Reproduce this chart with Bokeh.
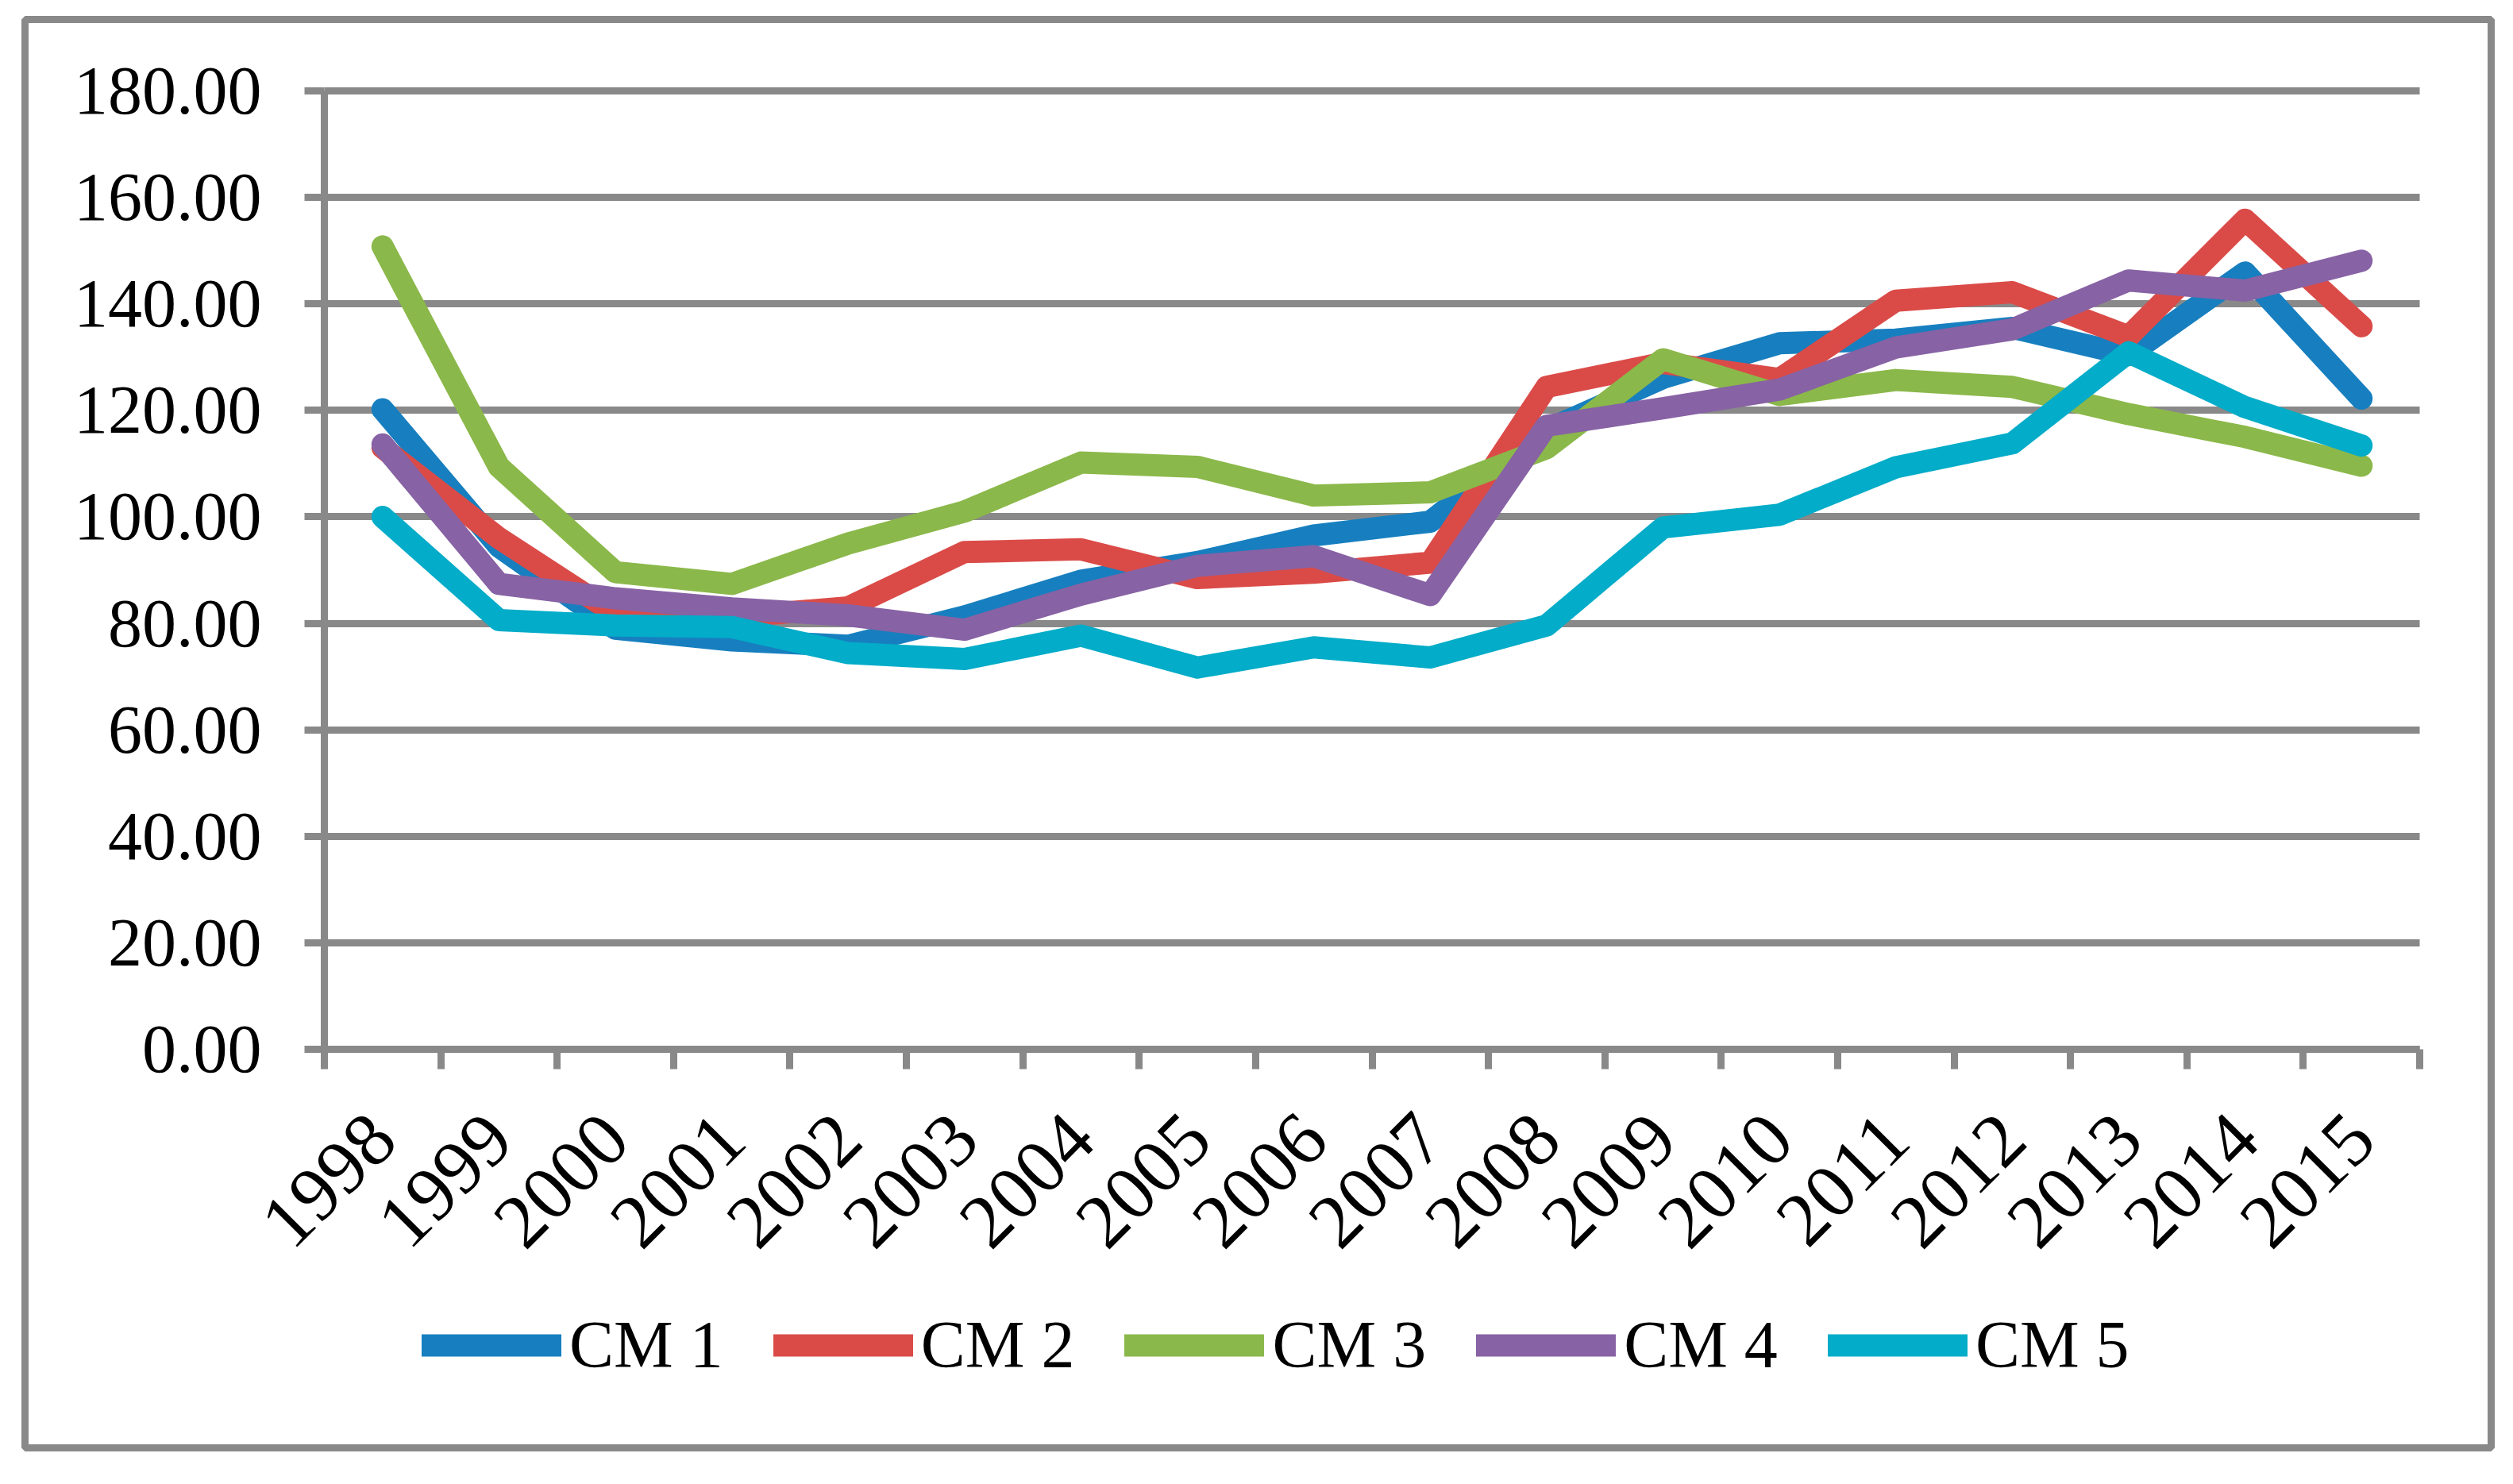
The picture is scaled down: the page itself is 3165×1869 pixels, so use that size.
import math
from bokeh.plotting import figure
from bokeh.models import (FixedTicker, NumeralTickFormatter, Legend, LegendItem, Range1d,
                          BoxAnnotation)
from bokeh.embed import file_html
from bokeh.resources import INLINE

years = ["1998", "1999", "2000", "2001", "2002", "2003", "2004", "2005", "2006",
         "2007", "2008", "2009", "2010", "2011", "2012", "2013", "2014", "2015"]
cm1 = [120.2, 94.4, 79.0, 76.8, 75.8, 81.3, 88.0, 91.5, 96.5, 99.1, 116.3, 126.1,
       132.6, 133.3, 135.5, 130.4, 145.9, 122.2]
cm2 = [113.0, 96.0, 81.8, 81.2, 83.0, 93.4, 93.9, 88.5, 89.5, 91.4, 124.4, 128.9,
       125.9, 140.6, 142.2, 133.9, 155.8, 135.8]
cm3 = [150.8, 109.4, 89.6, 87.4, 95.0, 101.0, 110.2, 109.4, 104.0, 104.6, 112.9, 129.6,
       122.9, 125.7, 124.4, 119.3, 115.0, 109.6]
cm4 = [113.6, 87.4, 84.7, 82.8, 81.5, 78.8, 85.4, 90.8, 92.6, 85.3, 117.1, 120.4,
       123.9, 131.8, 135.2, 144.4, 142.5, 148.1]
cm5 = [100.0, 80.6, 79.6, 79.3, 74.4, 73.3, 77.7, 71.7, 75.5, 73.6, 79.6, 98.0,
       100.4, 109.3, 113.8, 130.9, 120.6, 113.4]
series_names = ["CM 1", "CM 2", "CM 3", "CM 4", "CM 5"]
series_values = [cm1, cm2, cm3, cm4, cm5]
colors = ["#177FBF", "#DA4B48", "#8BB84A", "#8762A4", "#03ACC8"]
y_ticks = [0, 20, 40, 60, 80, 100, 120, 140, 160, 180]

FONT = "Liberation Serif"
GRAY = "#898989"
LW = 28
GW = 9

W, H = 3160, 1862
MB = 5                         # thin outer margin; the frame covers almost the whole canvas
FL, FR, FT, FB = MB, W - MB, MB, H - MB
# plot-area geometry in canvas pixels
AX_LEFT, AX_RIGHT = 408, 3047      # x = 0 .. n categories
AX_TOP, AX_BOTTOM = 114, 1321      # y = 180 .. 0
n = len(years)
ppx = (AX_RIGHT - AX_LEFT) / n
ppy = (AX_BOTTOM - AX_TOP) / 180.0
x_min = -(AX_LEFT - FL) / ppx
x_max = n + (FR - AX_RIGHT) / ppx
y_min = -(FB - AX_BOTTOM) / ppy
y_max = 180 + (AX_TOP - FT) / ppy

p = figure(width=W, height=H, output_backend="svg", toolbar_location=None,
           x_range=Range1d(x_min, x_max), y_range=Range1d(y_min, y_max),
           min_border_left=MB, min_border_right=MB, min_border_top=MB,
           min_border_bottom=MB)
p.outline_line_color = None
p.background_fill_color = "white"
p.border_fill_color = "white"

xs = [i + 0.5 for i in range(n)]

renderers = []
for name, vals, col in zip(series_names, series_values, colors):
    r = p.line(xs, vals, line_color=col, line_width=LW,
               line_cap="round", line_join="round")
    renderers.append(r)

# x axis: drawn at value 0, labels at category centres, ticks at category boundaries
p.xaxis.fixed_location = 0
p.xaxis.bounds = (0, n)
p.xaxis.ticker = FixedTicker(ticks=xs, minor_ticks=list(range(n + 1)))
p.xaxis.major_label_overrides = {x: y for x, y in zip(xs, years)}
p.xaxis.major_tick_out = 0
p.xaxis.major_tick_in = 0
p.xaxis.minor_tick_out = 25
p.xaxis.minor_tick_in = 0
p.xaxis.minor_tick_line_color = GRAY
p.xaxis.minor_tick_line_width = GW
p.xaxis.axis_line_color = GRAY
p.xaxis.axis_line_width = GW
p.xaxis.major_label_orientation = math.pi / 4
p.xaxis.major_label_text_font = FONT
p.xaxis.major_label_text_font_size = "96px"
p.xaxis.major_label_text_color = "black"
p.xaxis.major_label_standoff = 72
p.xgrid.visible = False

# y axis drawn at x = 0
p.yaxis.fixed_location = 0
p.yaxis.bounds = (0, 180)
p.yaxis.ticker = FixedTicker(ticks=y_ticks, minor_ticks=[])
p.yaxis.formatter = NumeralTickFormatter(format="0.00")
p.yaxis.major_tick_out = 25
p.yaxis.major_tick_in = 0
p.yaxis.major_tick_line_color = GRAY
p.yaxis.major_tick_line_width = GW
p.yaxis.minor_tick_line_color = None
p.yaxis.axis_line_color = GRAY
p.yaxis.axis_line_width = GW
p.yaxis.major_label_text_font = FONT
p.yaxis.major_label_text_font_size = "86px"
p.yaxis.major_label_text_color = "black"
p.yaxis.major_label_standoff = 54

p.ygrid.grid_line_color = GRAY
p.ygrid.grid_line_width = GW
p.ygrid.bounds = (-1, 181)
try:
    p.ygrid.cross_bounds = (0, n)
except Exception:
    p.ygrid.visible = False
    p.segment(x0=[0] * len(y_ticks), y0=y_ticks, x1=[n] * len(y_ticks), y1=y_ticks,
              line_color=GRAY, line_width=GW, level="underlay")

LEG_X, LEG_TOP, LEG_H = 531, 1658, 84
legend = Legend(items=[LegendItem(label=nm, renderers=[r]) for nm, r in zip(series_names, renderers)],
                orientation="horizontal", location=(LEG_X - FL, FB - LEG_TOP - LEG_H),
                glyph_width=176, glyph_height=LEG_H, label_height=LEG_H,
                label_standoff=10, spacing=63, padding=0, margin=0,
                border_line_color=None, background_fill_alpha=0,
                label_text_font=FONT, label_text_font_size="84px",
                label_text_color="black")
p.add_layout(legend, "center")

border = BoxAnnotation(left=31, right=3137, top=24, bottom=1823,
                       left_units="canvas", right_units="canvas",
                       top_units="canvas", bottom_units="canvas",
                       fill_alpha=0, line_color=GRAY, line_alpha=1.0, line_width=GW)
p.add_layout(border)

open("out.html", "w").write(file_html(p, INLINE))
